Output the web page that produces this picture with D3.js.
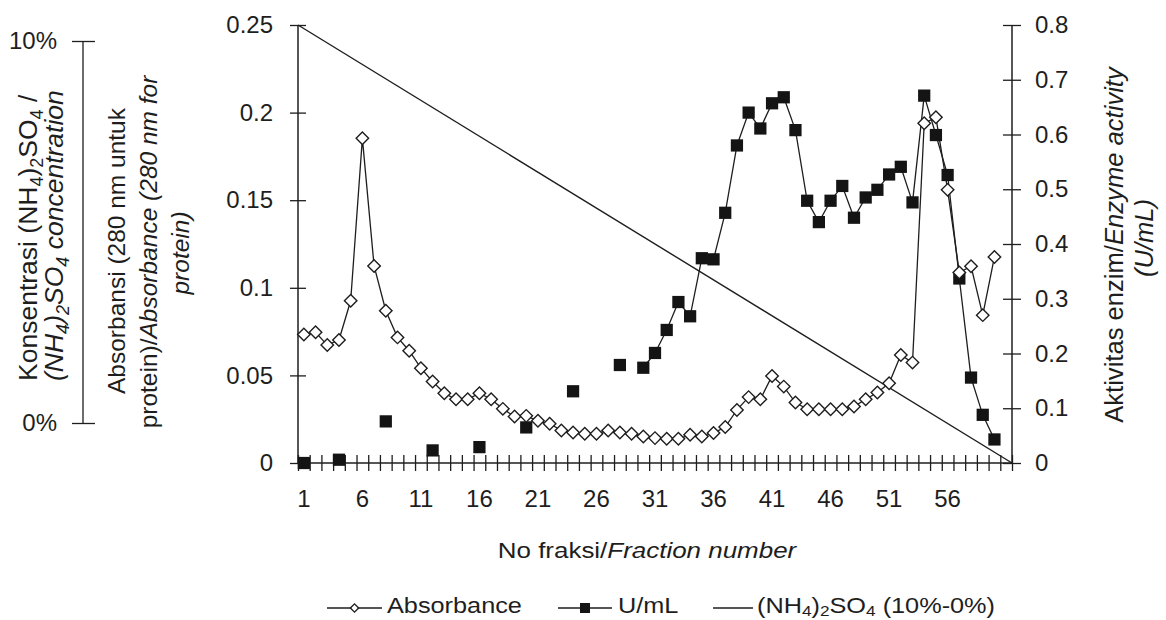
<!DOCTYPE html>
<html>
<head>
<meta charset="utf-8">
<script src="https://cdn.jsdelivr.net/npm/d3@7"></script>
<style>
  body { margin: 0; background: #fff; }
  text { font-family: "Liberation Sans", Arial, sans-serif; fill: #1e1e1e; }
</style>
</head>
<body>
<svg id="chart" width="1166" height="620"></svg>
<script>
// Data ////////////////////////////////////////////////////
const fractions = [1, 2, 3, 4, 5, 6, 7, 8, 9, 10, 11, 12, 13, 14, 15, 16, 17, 18, 19, 20,
  21, 22, 23, 24, 25, 26, 27, 28, 29, 30, 31, 32, 33, 34, 35, 36, 37, 38, 39, 40,
  41, 42, 43, 44, 45, 46, 47, 48, 49, 50, 51, 52, 53, 54, 55, 56, 57, 58, 59, 60, 61];

// absorbance 280 nm, fractions 1..60
const absorbance = [0.0734, 0.0746, 0.0673, 0.0702, 0.0926, 0.1853, 0.1125, 0.0869, 0.0717, 0.0641,
  0.0541, 0.0465, 0.0398, 0.0364, 0.0364, 0.0398, 0.0364, 0.0309, 0.0265, 0.0269,
  0.0241, 0.0224, 0.0186, 0.0174, 0.0167, 0.0167, 0.0186, 0.0174, 0.0167, 0.0151,
  0.0142, 0.0138, 0.0138, 0.0161, 0.0151, 0.0171, 0.0205, 0.0303, 0.0376, 0.0364,
  0.0497, 0.0436, 0.0345, 0.0307, 0.0307, 0.0307, 0.0307, 0.0322, 0.0364, 0.0402,
  0.0455, 0.0616, 0.0573, 0.1939, 0.1973, 0.1559, 0.1087, 0.1123, 0.0844, 0.1176];

// enzyme activity U/mL, fractions 1..60 (null = not measured)
const activity = [0, null, null, 0.006, null, null, null, 0.076, null, null,
  null, 0.023, null, null, null, 0.029, null, null, null, 0.065,
  null, null, null, 0.131, null, null, null, 0.179, null, 0.174,
  0.201, 0.243, 0.294, 0.268, 0.374, 0.372, 0.457, 0.580, 0.640, 0.611,
  0.657, 0.668, 0.608, 0.479, 0.440, 0.479, 0.506, 0.448, 0.485, 0.499,
  0.527, 0.541, 0.476, 0.671, 0.599, 0.526, 0.337, 0.156, 0.088, 0.043];

// (NH4)2SO4 gradient, % at start and end of the run
const saltGradient = [10, 0];

const xLabels = [1, 6, 11, 16, 21, 26, 31, 36, 41, 46, 51, 56];
const absTicks = [0, 0.05, 0.1, 0.15, 0.2, 0.25];
const actTicks = [0, 0.1, 0.2, 0.3, 0.4, 0.5, 0.6, 0.7, 0.8];
const saltTicks = [0, 10];

// Setup ///////////////////////////////////////////////////
const svg = d3.select("#chart");
const FS = 24;
const ink = "#1e1e1e";
const plot = { left: 298, right: 1012, top: 25, bottom: 463 };

const x = d3.scaleLinear()
  .domain([fractions[0] - 0.5, fractions[fractions.length - 1] + 0.5])
  .range([plot.left, plot.right]);
const yAbs = d3.scaleLinear().domain([0, 0.25]).range([plot.bottom, plot.top]);
const yAct = d3.scaleLinear().domain([0, 0.8]).range([plot.bottom, plot.top]);
const ySaltLine = d3.scaleLinear().domain([0, 10]).range([plot.bottom, plot.top]);
const ySaltAxis = d3.scaleLinear().domain([0, 10]).range([423, 41]);

// rich text helper: parts with subscripts / italics
function richText(sel, parts, size, subDy) {
  let shifted = false;
  parts.forEach(p => {
    const t = sel.append("tspan").text(p.t);
    if (p.it) t.style("font-style", "italic");
    if (p.sub) {
      t.attr("font-size", size * 0.68);
      if (!shifted) { t.attr("dy", subDy); shifted = true; }
    } else if (shifted) {
      t.attr("dy", -subDy);
      shifted = false;
    }
  });
  return sel;
}

function crossTicks(g, a, b, vertical) {
  g.selectAll(".tick line")
    .attr(vertical ? "x1" : "y1", a)
    .attr(vertical ? "x2" : "y2", b);
}

// Axes ////////////////////////////////////////////////////
const axisStyle = g => {
  g.selectAll("path, line").attr("stroke", ink).attr("stroke-width", 1.3);
  g.select(".domain").remove();
  g.selectAll("text").attr("font-size", FS).attr("fill", ink).attr("font-family", null);
};

// x axis ticks at category boundaries
const xTickVals = fractions.map(f => f - 0.5).concat([fractions[fractions.length - 1] + 0.5]);
const gx = svg.append("g")
  .attr("transform", `translate(0,${plot.bottom})`)
  .call(d3.axisBottom(x).tickValues(xTickVals).tickFormat(""))
  .call(axisStyle);
crossTicks(gx, -8, 8, false);
svg.append("line")
  .attr("x1", plot.left).attr("x2", plot.right)
  .attr("y1", plot.bottom).attr("y2", plot.bottom)
  .attr("stroke", ink).attr("stroke-width", 1.5);

svg.append("g").selectAll("text")
  .data(xLabels)
  .join("text")
  .attr("x", d => x(d))
  .attr("y", 507)
  .attr("text-anchor", "middle")
  .attr("font-size", FS)
  .text(d => d);

// left absorbance axis
const gl = svg.append("g")
  .attr("transform", `translate(${plot.left},0)`)
  .call(d3.axisLeft(yAbs).tickValues(absTicks).tickFormat(d => d3.format("")(d)).tickPadding(19))
  .call(axisStyle);
crossTicks(gl, -8, 8, true);
svg.append("line")
  .attr("x1", plot.left).attr("x2", plot.left)
  .attr("y1", plot.top).attr("y2", plot.bottom)
  .attr("stroke", ink).attr("stroke-width", 1.5);

// right activity axis
const gr = svg.append("g")
  .attr("transform", `translate(${plot.right},0)`)
  .call(d3.axisRight(yAct).tickValues(actTicks).tickFormat(d => d3.format("")(d)).tickPadding(17))
  .call(axisStyle);
crossTicks(gr, -9, 9, true);
svg.append("line")
  .attr("x1", plot.right).attr("x2", plot.right)
  .attr("y1", plot.top).attr("y2", plot.bottom)
  .attr("stroke", ink).attr("stroke-width", 1.5);

// far left (NH4)2SO4 axis
const saltX = 83;
const gs = svg.append("g")
  .attr("transform", `translate(${saltX},0)`)
  .call(d3.axisLeft(ySaltAxis).tickValues(saltTicks).tickFormat(d => d + "%").tickPadding(20))
  .call(axisStyle);
crossTicks(gs, -11, 12, true);
svg.append("line")
  .attr("x1", saltX).attr("x2", saltX)
  .attr("y1", ySaltAxis(10)).attr("y2", ySaltAxis(0))
  .attr("stroke", ink).attr("stroke-width", 1.3);

// Axis titles /////////////////////////////////////////////
function vTitle(px, py, anchor, size, parts) {
  const t = svg.append("text")
    .attr("transform", `translate(${px},${py}) rotate(-90)`)
    .attr("text-anchor", anchor)
    .attr("font-size", size);
  richText(t, parts, size, 6);
}

vTitle(37, 381, "start", 26.5, [
  { t: "Konsentrasi (NH" }, { t: "4", sub: true }, { t: ")" }, { t: "2", sub: true },
  { t: "SO" }, { t: "4", sub: true }, { t: " /" }]);
vTitle(63, 381, "start", 26.5, [
  { t: "(NH", it: true }, { t: "4", sub: true, it: true }, { t: ")", it: true },
  { t: "2", sub: true, it: true }, { t: "SO", it: true }, { t: "4", sub: true, it: true },
  { t: " concentration", it: true }]);

vTitle(125, 251, "middle", 24.5, [{ t: "Absorbansi (280 nm untuk" }]);
vTitle(157, 252, "middle", 24.5, [{ t: "protein)/" }, { t: "Absorbance (280 nm for", it: true }]);
vTitle(189, 253, "middle", 24.5, [{ t: "protein)", it: true }]);

vTitle(1123, 245, "middle", 25.6, [{ t: "Aktivitas enzim/" }, { t: "Enzyme activity", it: true }]);
vTitle(1153, 238, "middle", 25.6, [{ t: "(U/mL)", it: true }]);

// horizontal texts are a little wider than tall in the scan
function hText(px, py, anchor, sx, parts, subDy) {
  const t = svg.append("text")
    .attr("transform", `translate(${px},${py}) scale(${sx},1)`)
    .attr("text-anchor", anchor)
    .attr("font-size", 22);
  richText(t, parts, 22, subDy);
}

hText(647, 558, "middle", 1.18, [{ t: "No fraksi/" }, { t: "Fraction number", it: true }], 4);

// Series //////////////////////////////////////////////////
const absData = absorbance.map((v, i) => ({ f: fractions[i], v }));
const actData = activity.map((v, i) => ({ f: fractions[i], v }));

// (NH4)2SO4 gradient line, first to last fraction edge
svg.append("path")
  .datum(saltGradient.map((v, i) => ({ px: i === 0 ? x.domain()[0] : x.domain()[1], v })))
  .attr("d", d3.line().x(d => x(d.px)).y(d => ySaltLine(d.v)))
  .attr("fill", "none")
  .attr("stroke", ink)
  .attr("stroke-width", 1.4);

const diamond = d3.symbol(d3.symbolSquare, 78);
const square = d3.symbol(d3.symbolSquare, 150);

svg.append("path")
  .datum(absData)
  .attr("d", d3.line().x(d => x(d.f)).y(d => yAbs(d.v)))
  .attr("fill", "none")
  .attr("stroke", ink)
  .attr("stroke-width", 1.3);

svg.append("path")
  .datum(actData)
  .attr("d", d3.line().defined(d => d.v !== null).x(d => x(d.f)).y(d => yAct(d.v)))
  .attr("fill", "none")
  .attr("stroke", ink)
  .attr("stroke-width", 1.3);

svg.append("g").selectAll("path")
  .data(actData.filter(d => d.v !== null))
  .join("path")
  .attr("d", square)
  .attr("transform", d => `translate(${x(d.f)},${yAct(d.v)})`)
  .attr("fill", "#141414");

svg.append("g").selectAll("path")
  .data(absData)
  .join("path")
  .attr("d", diamond)
  .attr("transform", d => `translate(${x(d.f)},${yAbs(d.v)}) rotate(45)`)
  .attr("fill", "#fff")
  .attr("stroke", ink)
  .attr("stroke-width", 1.4);

// Legend //////////////////////////////////////////////////
const legY = 608;
const legend = [
  { x0: 327, x1: 382, marker: "diamond", tx: 387, parts: [{ t: "Absorbance" }] },
  { x0: 558, x1: 612, marker: "square", tx: 618, parts: [{ t: "U/mL" }] },
  { x0: 713, x1: 753, marker: null, tx: 757, parts: [
    { t: "(NH" }, { t: "4", sub: true }, { t: ")" }, { t: "2", sub: true },
    { t: "SO" }, { t: "4", sub: true }, { t: " (10%-0%)" }] }
];
const legDiamond = d3.symbol(d3.symbolSquare, 34);
const legSquare = d3.symbol(d3.symbolSquare, 100);
legend.forEach(l => {
  svg.append("line")
    .attr("x1", l.x0).attr("x2", l.x1).attr("y1", legY).attr("y2", legY)
    .attr("stroke", ink).attr("stroke-width", 1.4);
  const cx = (l.x0 + l.x1) / 2;
  if (l.marker === "diamond") {
    svg.append("path").attr("d", legDiamond)
      .attr("transform", `translate(${cx},${legY}) rotate(45)`)
      .attr("fill", "#fff").attr("stroke", ink).attr("stroke-width", 1.4);
  } else if (l.marker === "square") {
    svg.append("path").attr("d", legSquare)
      .attr("transform", `translate(${cx},${legY})`)
      .attr("fill", "#141414");
  }
  hText(l.tx, 613, "start", 1.15, l.parts, 3);
});
</script>
</body>
</html>
